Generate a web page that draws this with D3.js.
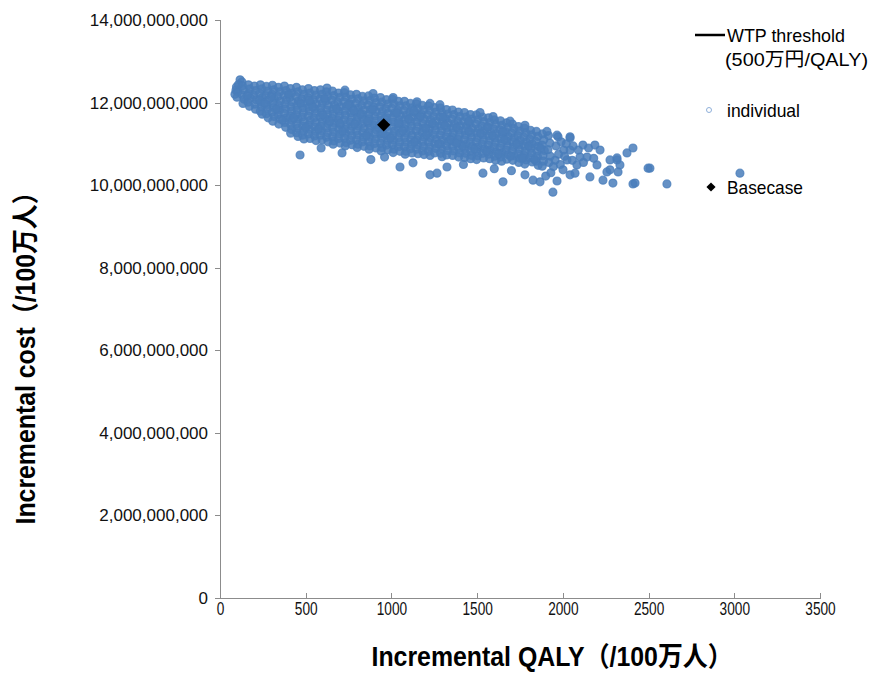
<!DOCTYPE html>
<html>
<head>
<meta charset="utf-8">
<script src="https://cdn.jsdelivr.net/npm/d3@7"></script>
<style>
  body { margin: 0; background: #fff; }
  svg { display: block; }
  .axis path, .axis line { stroke: #8c8c8c; shape-rendering: crispEdges; }
  .y-axis text { font-family: "Liberation Sans", Arial, sans-serif; font-size: 17px; fill: #111; }
  .x-axis text { font-family: "Liberation Sans", Arial, sans-serif; font-size: 18px; fill: #111; }
  text.title { font-family: "Liberation Sans", "Noto Sans CJK JP", sans-serif; font-weight: bold; font-size: 27px; fill: #000; }
  text.legend { font-family: "Liberation Sans", "Noto Sans CJK JP", sans-serif; font-size: 19px; fill: #000; }
  .pt { fill: #4a7ebb; fill-opacity: 0.85; stroke: #4a7ebb; stroke-opacity: 0.75; stroke-width: 1.2; }
</style>
</head>
<body>
<div id="chart"></div>
<script>
// incremental QALY (/100万人) ticks and incremental cost ticks (in 10^9 yen)
const xTicks = [0, 500, 1000, 1500, 2000, 2500, 3000, 3500];
const yTicks = [0, 2, 4, 6, 8, 10, 12, 14];

// basecase: [QALY, cost in 10^9]
const basecase = [955, 11.46];

// individual PSA results: [QALY, cost in 10^9]
const individual = [
  [117,12.55],[87,12.20],[93,12.30],[128,12.50],
  [96,12.38],[104,12.26],[99,12.13],[108,12.44],
  [131,12.41],[138,12.30],[129,12.19],[141,12.08],[134,11.98],
  [166,12.43],[174,12.33],[168,12.22],[177,12.11],[163,12.01],[172,11.91],
  [201,12.40],[209,12.29],[198,12.18],[211,12.07],[204,11.96],[207,11.84],
  [236,12.43],[244,12.33],[233,12.23],[247,12.12],[239,12.01],[242,11.90],[235,11.79],[246,11.72],
  [271,12.39],[279,12.28],[268,12.17],[282,12.06],[274,11.95],[277,11.84],[270,11.73],[281,11.63],
  [306,12.42],[314,12.31],[303,12.20],[317,12.10],[309,11.99],[312,11.88],[305,11.77],[316,11.66],[308,11.55],
  [341,12.37],[349,12.26],[338,12.15],[352,12.04],[344,11.93],[347,11.82],[340,11.71],[351,11.60],[343,11.48],
  [376,12.40],[384,12.29],[373,12.18],[387,12.07],[379,11.96],[382,11.85],[375,11.74],[386,11.63],[378,11.52],[383,11.40],
  [411,12.34],[419,12.23],[408,12.12],[422,12.01],[414,11.90],[417,11.79],[410,11.68],[421,11.57],[413,11.46],[418,11.35],[412,11.26],
  [446,12.37],[454,12.26],[443,12.15],[457,12.04],[449,11.93],[452,11.82],[445,11.71],[456,11.60],[448,11.49],[453,11.38],[447,11.27],[455,11.18],
  [481,12.31],[489,12.20],[478,12.09],[492,11.98],[484,11.87],[487,11.76],[480,11.65],[491,11.54],[483,11.43],[488,11.32],[482,11.21],[490,11.12],
  [516,12.34],[524,12.23],[513,12.12],[527,12.01],[519,11.90],[522,11.79],[515,11.68],[526,11.57],[518,11.46],[523,11.35],[517,11.24],[525,11.13],
  [551,12.29],[559,12.18],[548,12.07],[562,11.96],[554,11.85],[557,11.74],[550,11.63],[561,11.52],[553,11.41],[558,11.30],[552,11.19],[560,11.08],
  [586,12.31],[594,12.20],[583,12.09],[597,11.98],[589,11.87],[592,11.76],[585,11.65],[596,11.54],[588,11.43],[593,11.32],[587,11.21],[595,11.10],
  [621,12.26],[629,12.15],[618,12.04],[632,11.93],[624,11.82],[627,11.71],[620,11.60],[631,11.49],[623,11.38],[628,11.27],[622,11.16],[630,11.05],
  [656,12.28],[664,12.17],[653,12.06],[667,11.95],[659,11.84],[662,11.73],[655,11.62],[666,11.51],[658,11.40],[663,11.29],[657,11.18],[665,11.07],[660,10.99],
  [691,12.23],[699,12.12],[688,12.01],[702,11.90],[694,11.79],[697,11.68],[690,11.57],[701,11.46],[693,11.35],[698,11.24],[692,11.13],[700,11.02],
  [726,12.24],[734,12.13],[723,12.02],[737,11.91],[729,11.80],[732,11.69],[725,11.58],[736,11.47],[728,11.36],[733,11.25],[727,11.14],[735,11.03],[730,10.95],
  [761,12.19],[769,12.08],[758,11.97],[772,11.86],[764,11.75],[767,11.64],[760,11.53],[771,11.42],[763,11.31],[768,11.20],[762,11.09],[770,10.98],
  [796,12.20],[804,12.09],[793,11.98],[807,11.87],[799,11.76],[802,11.65],[795,11.54],[806,11.43],[798,11.32],[803,11.21],[797,11.10],[805,10.99],[800,10.91],
  [831,12.15],[839,12.04],[828,11.93],[842,11.82],[834,11.71],[837,11.60],[830,11.49],[841,11.38],[833,11.27],[838,11.16],[832,11.05],[840,10.94],
  [866,12.16],[874,12.05],[863,11.94],[877,11.83],[869,11.72],[872,11.61],[865,11.50],[876,11.39],[868,11.28],[873,11.17],[867,11.06],[875,10.95],[870,10.87],
  [901,12.11],[909,12.00],[898,11.89],[912,11.78],[904,11.67],[907,11.56],[900,11.45],[911,11.34],[903,11.23],[908,11.12],[902,11.01],[910,10.90],
  [936,12.12],[944,12.01],[933,11.90],[947,11.79],[939,11.68],[942,11.57],[935,11.46],[946,11.35],[938,11.24],[943,11.13],[937,11.02],[945,10.91],[940,10.83],
  [971,12.07],[979,11.96],[968,11.85],[982,11.74],[974,11.63],[977,11.52],[970,11.41],[981,11.30],[973,11.19],[978,11.08],[972,10.97],[980,10.86],
  [1006,12.08],[1014,11.97],[1003,11.86],[1017,11.75],[1009,11.64],[1012,11.53],[1005,11.42],[1016,11.31],[1008,11.20],[1013,11.09],[1007,10.98],[1015,10.87],[1010,10.79],
  [1041,12.03],[1049,11.92],[1038,11.81],[1052,11.70],[1044,11.59],[1047,11.48],[1040,11.37],[1051,11.26],[1043,11.15],[1048,11.04],[1042,10.93],[1050,10.82],
  [1076,12.03],[1084,11.92],[1073,11.81],[1087,11.70],[1079,11.59],[1082,11.48],[1075,11.37],[1086,11.26],[1078,11.15],[1083,11.04],[1077,10.93],[1085,10.82],[1080,10.75],
  [1111,11.98],[1119,11.87],[1108,11.76],[1122,11.65],[1114,11.54],[1117,11.43],[1110,11.32],[1121,11.21],[1113,11.10],[1118,10.99],[1112,10.88],[1120,10.78],
  [1146,11.97],[1154,11.86],[1143,11.75],[1157,11.64],[1149,11.53],[1152,11.42],[1145,11.31],[1156,11.20],[1148,11.09],[1153,10.98],[1147,10.87],[1155,10.76],
  [1181,11.93],[1189,11.82],[1178,11.71],[1192,11.60],[1184,11.49],[1187,11.38],[1180,11.27],[1191,11.16],[1183,11.05],[1188,10.94],[1182,10.83],[1190,10.74],
  [1216,11.92],[1224,11.81],[1213,11.70],[1227,11.59],[1219,11.48],[1222,11.37],[1215,11.26],[1226,11.15],[1218,11.04],[1223,10.93],[1217,10.82],[1225,10.72],
  [1251,11.88],[1259,11.77],[1248,11.66],[1262,11.55],[1254,11.44],[1257,11.33],[1250,11.22],[1261,11.11],[1253,11.00],[1258,10.89],[1252,10.78],
  [1286,11.87],[1294,11.76],[1283,11.65],[1297,11.54],[1289,11.43],[1292,11.32],[1285,11.21],[1296,11.10],[1288,10.99],[1293,10.88],[1287,10.77],[1295,10.69],
  [1321,11.83],[1329,11.72],[1318,11.61],[1332,11.50],[1324,11.39],[1327,11.28],[1320,11.17],[1331,11.06],[1323,10.95],[1328,10.84],[1322,10.73],
  [1356,11.82],[1364,11.71],[1353,11.60],[1367,11.49],[1359,11.38],[1362,11.27],[1355,11.16],[1366,11.05],[1358,10.94],[1363,10.83],[1357,10.72],
  [1391,11.77],[1399,11.66],[1388,11.55],[1402,11.44],[1394,11.33],[1397,11.22],[1390,11.11],[1401,11.00],[1393,10.89],[1398,10.78],[1392,10.68],
  [1426,11.76],[1434,11.65],[1423,11.54],[1437,11.43],[1429,11.32],[1432,11.21],[1425,11.10],[1436,10.99],[1428,10.88],[1433,10.77],[1427,10.67],
  [1461,11.71],[1469,11.60],[1458,11.49],[1472,11.38],[1464,11.27],[1467,11.16],[1460,11.05],[1471,10.94],[1463,10.83],[1468,10.72],[1462,10.64],
  [1496,11.70],[1504,11.59],[1493,11.48],[1507,11.37],[1499,11.26],[1502,11.15],[1495,11.04],[1506,10.93],[1498,10.82],[1503,10.71],[1497,10.62],
  [1531,11.65],[1539,11.54],[1528,11.43],[1542,11.32],[1534,11.21],[1537,11.10],[1530,10.99],[1541,10.88],[1533,10.77],[1538,10.66],
  [1566,11.63],[1574,11.52],[1563,11.41],[1577,11.30],[1569,11.19],[1572,11.08],[1565,10.97],[1576,10.86],[1568,10.75],[1573,10.64],
  [1601,11.58],[1609,11.47],[1598,11.36],[1612,11.25],[1604,11.14],[1607,11.03],[1600,10.92],[1611,10.81],[1603,10.70],[1608,10.60],
  [1636,11.56],[1644,11.45],[1633,11.34],[1647,11.23],[1639,11.12],[1642,11.01],[1635,10.90],[1646,10.79],[1638,10.68],[1643,10.58],
  [1671,11.51],[1679,11.40],[1668,11.29],[1682,11.18],[1674,11.07],[1677,10.96],[1670,10.85],[1681,10.74],[1673,10.63],
  [1706,11.48],[1714,11.37],[1703,11.26],[1717,11.15],[1709,11.04],[1712,10.93],[1705,10.82],[1716,10.71],[1708,10.60],
  [1741,11.42],[1749,11.31],[1738,11.20],[1752,11.09],[1744,10.98],[1747,10.87],[1740,10.76],[1751,10.65],[1743,10.55],
  [1776,11.38],[1784,11.27],[1773,11.16],[1787,11.05],[1779,10.94],[1782,10.83],[1775,10.72],[1786,10.61],[1778,10.51],
  [1811,11.33],[1819,11.22],[1808,11.11],[1822,11.00],[1814,10.89],[1817,10.78],[1810,10.67],[1821,10.56],
  [1846,11.30],[1854,11.18],[1843,11.06],[1857,10.94],[1849,10.82],[1852,10.70],[1845,10.58],[1856,10.48],
  [1881,11.24],[1889,11.10],[1878,10.97],[1892,10.84],[1884,10.71],[1887,10.58],[1880,10.46],
  [1916,11.20],[1924,11.02],[1913,10.86],[1927,10.70],[1919,10.55],
  // interior points between the rows above
  [160,12.17],[230,12.06],[300,12.14],[330,11.85],[400,12.20],[430,11.63],[470,11.98],[500,11.40],
  [540,11.90],[575,11.36],[610,12.10],[640,11.55],[680,11.85],[715,11.30],[750,11.95],[785,11.48],
  [820,11.72],[855,11.20],[890,11.83],[925,11.40],[960,11.60],[995,11.14],[1030,11.75],[1065,11.32],
  [1100,11.60],[1135,11.05],[1170,11.66],[1205,11.22],[1240,11.50],[1275,11.00],[1310,11.45],[1345,11.10],
  [1380,11.40],[1415,10.95],[1450,11.30],[1485,10.88],[1520,11.25],[1555,10.82],[1590,11.20],[1625,10.76],
  [1660,11.10],[1695,10.70],[1730,11.00],[1765,10.66],[1800,10.95],[1835,10.62],[1870,10.90],
  [260,11.98],[365,11.58],[520,12.05],[600,11.70],[700,11.50],[780,11.80],[860,11.55],[950,11.25],
  [1040,11.50],[1130,11.80],[1200,11.38],[1300,11.65],[1380,11.02],[1450,11.55],[1560,11.40],[1650,11.30],
  // scattered below the cloud
  [467,10.73],[712,10.78],[1225,10.25],[1266,10.29],[1651,10.08],[1050,10.44],[1126,10.54],
  [1324,10.44],[1534,10.29],[1779,10.25],[1826,10.12],[1942,9.83],[590,10.90],[880,10.62],
  [960,10.68],[1420,10.50],[1600,10.40],[1700,10.35],
  // scattered above the cloud
  [624,12.35],[729,12.30],[893,12.22],[1010,12.12],[1149,12.02],[1225,11.98],[1283,11.95],
  [1517,11.76],[1593,11.66],[1692,11.55],[1779,11.45],[1907,11.30],[1972,11.17],[2042,11.14],
  // right tail
  [2042,11.17],[2117,10.97],[2187,10.97],[2374,10.78],[2409,10.90],[2508,10.41],[2607,10.03],
  [2409,10.03],[1867,10.08],[1966,10.10],[2292,10.05],[2234,10.12],[2322,10.32],[2257,10.32],
  [2158,10.20],[2042,10.25],[2082,10.49],[2275,10.61],[2316,10.61],[2199,10.49],[2100,10.68],
  [2024,10.61],[2042,10.85],[1966,11.21],[2333,10.49],[2217,10.85],[2316,10.66],[2275,10.37],
  [2141,10.68],[2001,10.37],[2071,10.29],[3033,10.29],[2497,10.41],[2421,10.05],
  [1960,10.95],[1975,10.75],[1990,11.05],[2005,10.85],[1955,10.60],[1985,10.50],[2010,10.70],
  [2020,11.00],[1945,10.45],[2060,10.95],[2055,10.60],[2090,10.85],[2120,10.55],[2150,10.90],
  [2180,10.65],[1930,10.30],[1900,10.22]
];

const legendItems = ["WTP threshold", "(500万円/QALY)", "individual", "Basecase"];

const W = 875, H = 674;
const plot = { left: 220, right: 820, top: 20, bottom: 598 };

const svg = d3.select("#chart").append("svg")
  .attr("width", W).attr("height", H);

const x = d3.scaleLinear().domain([0, 3500]).range([plot.left, plot.right]);
const y = d3.scaleLinear().domain([0, 14]).range([plot.bottom, plot.top]);

// points
svg.append("g")
  .selectAll("circle")
  .data(individual)
  .enter()
  .append("circle")
  .attr("class", "pt")
  .attr("cx", d => x(d[0]))
  .attr("cy", d => y(d[1]))
  .attr("r", 4);

// basecase diamond
svg.append("path")
  .attr("d", d3.symbol(d3.symbolSquare, 88)())
  .attr("transform", `translate(${x(basecase[0])},${y(basecase[1])}) rotate(45)`)
  .attr("fill", "#000");

// axes
svg.append("g")
  .attr("class", "axis y-axis")
  .attr("transform", `translate(${plot.left},0)`)
  .call(d3.axisLeft(y).tickValues(yTicks).tickSize(5).tickPadding(7)
    .tickFormat(d => d3.format(",")(d * 1e9)));

const xAxis = svg.append("g")
  .attr("class", "axis x-axis")
  .attr("transform", `translate(0,${plot.bottom})`)
  .call(d3.axisBottom(x).tickValues(xTicks).tickSizeInner(-5).tickSizeOuter(0).tickPadding(4)
    .tickFormat(d3.format("d")));
// narrow digits like the original
xAxis.selectAll(".tick text")
  .attr("textLength", d => String(d).length * 7.6)
  .attr("lengthAdjust", "spacingAndGlyphs");

// axis titles
svg.append("text")
  .attr("class", "title")
  .attr("x", 552)
  .attr("y", 666)
  .attr("text-anchor", "middle")
  .attr("textLength", 361)
  .attr("lengthAdjust", "spacingAndGlyphs")
  .text("Incremental QALY（/100万人）");

svg.append("text")
  .attr("class", "title")
  .attr("transform", "translate(35,352) rotate(-90)")
  .attr("text-anchor", "middle")
  .attr("textLength", 345)
  .attr("lengthAdjust", "spacingAndGlyphs")
  .text("Incremental cost（/100万人）");

// legend
const lg = svg.append("g");
lg.append("line")
  .attr("x1", 695).attr("x2", 725).attr("y1", 35).attr("y2", 35)
  .attr("stroke", "#000").attr("stroke-width", 2.5);
lg.append("text").attr("class", "legend")
  .attr("x", 727).attr("y", 42).attr("textLength", 118).attr("lengthAdjust", "spacingAndGlyphs")
  .text(legendItems[0]);
lg.append("text").attr("class", "legend")
  .attr("x", 725).attr("y", 66).attr("textLength", 143).attr("lengthAdjust", "spacingAndGlyphs")
  .text(legendItems[1]);
lg.append("circle")
  .attr("cx", 709).attr("cy", 110).attr("r", 2.5)
  .attr("fill", "none").attr("stroke", "#8fb0da").attr("stroke-width", 1);
lg.append("text").attr("class", "legend")
  .attr("x", 727).attr("y", 117).attr("textLength", 73).attr("lengthAdjust", "spacingAndGlyphs")
  .text(legendItems[2]);
lg.append("path")
  .attr("d", d3.symbol(d3.symbolSquare, 42)())
  .attr("transform", "translate(711,187) rotate(45)")
  .attr("fill", "#000");
lg.append("text").attr("class", "legend")
  .attr("x", 727).attr("y", 194).attr("textLength", 76).attr("lengthAdjust", "spacingAndGlyphs")
  .text(legendItems[3]);
</script>
</body>
</html>
